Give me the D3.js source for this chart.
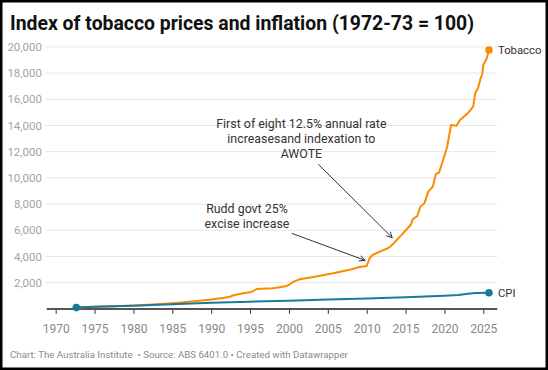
<!DOCTYPE html>
<html>
<head>
<meta charset="utf-8">
<script src="https://cdn.jsdelivr.net/npm/d3@7/dist/d3.min.js"></script>
<style>
  html, body { margin: 0; padding: 0; background: #fff; }
  svg { display: block; font-family: Roboto, "Noto Sans", sans-serif; }
</style>
</head>
<body>
<svg id="chart" width="548" height="370"></svg>
<script>
// ---- Data ----
const tobaccoYears = [1972.65, 1975, 1977.5, 1980, 1982.5, 1985, 1987.5, 1990, 1991.5, 1992.4, 1993.0, 1994.5, 1995.2, 1995.85, 1998, 1999.0, 1999.7, 2000.1, 2000.6, 2001.4, 2003.5, 2005.7, 2007.8, 2009.1, 2010.0, 2010.4, 2010.85, 2011.7, 2012.8, 2013.4, 2014.07, 2014.5, 2015.14, 2015.66, 2015.92, 2016.5, 2016.9, 2017.4, 2017.93, 2018.5, 2018.9, 2019.3, 2019.85, 2020.35, 2020.85, 2021.55, 2022.0, 2023.07, 2023.7, 2023.95, 2024.35, 2024.6, 2024.85, 2025.0, 2025.45, 2025.73];
const tobaccoValues = [100, 160, 200, 260, 330, 430, 560, 720, 840, 930, 1060, 1230, 1290, 1520, 1580, 1680, 1750, 1880, 2080, 2260, 2480, 2720, 2990, 3200, 3280, 3900, 4150, 4370, 4650, 4950, 5390, 5650, 6080, 6400, 6840, 7080, 7800, 8040, 8950, 9330, 10300, 10400, 11400, 12380, 14040, 13980, 14420, 14980, 15440, 16460, 16900, 17500, 17900, 18620, 19130, 19760];

const cpiYears = [1972.65, 1975, 1980, 1985, 1990, 1995, 2000, 2005, 2010, 2015, 2020, 2021.8, 2023.0, 2024.0, 2025.73];
const cpiValues = [100, 165, 245, 350, 470, 550, 630, 720, 790, 885, 1005, 1060, 1150, 1210, 1237];

const xTicks = [1970, 1975, 1980, 1985, 1990, 1995, 2000, 2005, 2010, 2015, 2020, 2025];
const yTicks = [2000, 4000, 6000, 8000, 10000, 12000, 14000, 16000, 18000, 20000];

const seriesNames = ["Tobacco", "CPI"];
const seriesColors = ["#fa8c00", "#187b9c"];

const annotationLines = [
  ["First of eight 12.5% annual rate", "increasesand indexation to", "AWOTE"],
  ["Rudd govt 25%", "excise increase"]
];
// [textCenterYear, arrowStartYear, arrowTipYear] and [arrowStartValue, arrowTipValue]
const annotationYears = [[2001.6, 2003.78, 2013.29], [1994.6, 2000.35, 2009.78]];
const annotationValues = [[11038, 5435], [5771, 3710]];

const titleText = "Index of tobacco prices and inflation (1972-73 = 100)";
const footerText = "Chart: The Australia Institute  \u2022 Source: ABS 6401.0 \u2022 Created with Datawrapper";

// ---- Layout ----
const svg = d3.select("#chart");
const W = 548, H = 370;
const plotLeft = 46.7, plotRight = 497.3, plotTop = 46.9, plotBottom = 308.9;

const x = d3.scaleLinear().domain([1968.842, 2026.8]).range([plotLeft, plotRight]);
const y = d3.scaleLinear().domain([0, 20000]).range([plotBottom, plotTop]);

// Border
svg.append("rect").attr("x", 1.25).attr("y", 1.25).attr("width", W - 2.5).attr("height", H - 2.5)
  .attr("fill", "#fff").attr("stroke", "#000").attr("stroke-width", 2.5);

// Title
svg.append("text").attr("x", 10).attr("y", 29.5)
  .attr("font-size", 19.4).attr("font-weight", 700).attr("fill", "#111")
  .text(titleText);

// Gridlines
svg.append("g").selectAll("line").data(yTicks).join("line")
  .attr("x1", 45.4).attr("x2", plotRight)
  .attr("y1", d => y(d)).attr("y2", d => y(d))
  .attr("stroke", "#e6e6e6").attr("stroke-width", 1);

// Y labels
svg.append("g").selectAll("text").data(yTicks).join("text")
  .attr("x", 42).attr("y", d => y(d)).attr("dy", "0.35em")
  .attr("text-anchor", "end").attr("font-size", 11.5).attr("fill", "#a3a3a3")
  .text(d => d3.format(",")(d));

// X axis
const xAxis = d3.axisBottom(x).tickValues(xTicks).tickFormat(d3.format("d")).tickSize(5).tickSizeOuter(0);
const gx = svg.append("g").attr("transform", `translate(0,${plotBottom})`).call(xAxis);
gx.select(".domain").remove();
gx.selectAll(".tick line").attr("stroke", "#333").attr("stroke-width", 1);
gx.selectAll(".tick text").attr("font-size", 12).attr("fill", "#888").attr("dy", "1.35em")
  .attr("font-family", "Roboto, sans-serif");
svg.append("line").attr("x1", plotLeft).attr("x2", plotRight)
  .attr("y1", plotBottom).attr("y2", plotBottom)
  .attr("stroke", "#555").attr("stroke-width", 2);

// Lines
const seriesData = [
  tobaccoYears.map((yr, i) => [yr, tobaccoValues[i]]),
  cpiYears.map((yr, i) => [yr, cpiValues[i]])
];
const line = d3.line().x(d => x(d[0])).y(d => y(d[1]));
seriesData.forEach((s, i) => {
  svg.append("path").datum(s).attr("d", line)
    .attr("fill", "none").attr("stroke", seriesColors[i]).attr("stroke-width", 2)
    .attr("stroke-linejoin", "round").attr("stroke-linecap", "round");
});
// Start dot
svg.append("circle").attr("cx", x(cpiYears[0])).attr("cy", y(cpiValues[0])).attr("r", 3.8).attr("fill", seriesColors[1]);
// End dots and labels
seriesData.forEach((s, i) => {
  const last = s[s.length - 1];
  svg.append("circle").attr("cx", x(last[0])).attr("cy", y(last[1])).attr("r", 3.8).attr("fill", seriesColors[i]);
  svg.append("text").attr("x", x(last[0]) + 9).attr("y", y(last[1])).attr("dy", "0.35em")
    .attr("font-size", 11.3).attr("fill", "#333").text(seriesNames[i]);
});

// Annotations
const defs = svg.append("defs");
defs.append("marker").attr("id", "arr").attr("viewBox", "0 0 10 10").attr("refX", 9).attr("refY", 5)
  .attr("markerWidth", 7).attr("markerHeight", 7).attr("markerUnits", "userSpaceOnUse")
  .attr("orient", "auto")
  .append("path").attr("d", "M1,1 L9,5 L1,9").attr("fill", "none").attr("stroke", "#333").attr("stroke-width", 1.3);

const annBaselines = [127.7, 213.3];
annotationLines.forEach((lines, i) => {
  const [cx, sx, tx] = annotationYears[i];
  const [sv, tv] = annotationValues[i];
  const t = svg.append("text").attr("text-anchor", "middle").attr("font-size", 12.4).attr("fill", "#333");
  lines.forEach((ln, j) => {
    t.append("tspan").attr("x", x(cx)).attr("y", annBaselines[i] + j * 15).text(ln);
  });
  svg.append("line").attr("x1", x(sx)).attr("y1", y(sv)).attr("x2", x(tx)).attr("y2", y(tv))
    .attr("stroke", "#333").attr("stroke-width", 1).attr("marker-end", "url(#arr)");
});

// Footer
svg.append("text").attr("x", 10).attr("y", 358).attr("font-size", 9.7).attr("fill", "#8a8a8a")
  .style("white-space", "pre")
  .text(footerText);
</script>
</body>
</html>
